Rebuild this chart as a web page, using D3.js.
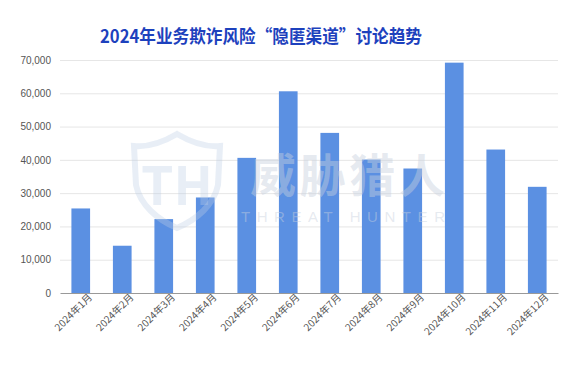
<!DOCTYPE html>
<html>
<head>
<meta charset="utf-8">
<script src="https://cdn.jsdelivr.net/npm/d3@7"></script>
<style>
  body { margin: 0; background: #fff; }
  text { font-family: "Noto Sans CJK SC", "Noto Sans", sans-serif; }
</style>
</head>
<body>
<div id="canvas"></div>
<script>
// 数据
const months = ["2024年1月", "2024年2月", "2024年3月", "2024年4月", "2024年5月", "2024年6月",
                "2024年7月", "2024年8月", "2024年9月", "2024年10月", "2024年11月", "2024年12月"];
const counts = [25400, 14200, 22200, 28700, 40600, 60600, 48100, 40100, 37400, 69200, 43100, 31900];
const yTicks = [0, 10000, 20000, 30000, 40000, 50000, 60000, 70000];

const width = 578;
const height = 371;
const margin = { top: 60, left: 60, bottom: 78, right: 20 };
const iwidth = width - margin.left - margin.right;
const iheight = height - margin.top - margin.bottom;

const svg = d3.select("#canvas").append("svg")
    .attr("width", width)
    .attr("height", height);

// 标题
svg.append("text")
    .attr("x", 100)
    .attr("y", 43)
    .attr("textLength", 322)
    .attr("lengthAdjust", "spacingAndGlyphs")
    .style("font-size", "18px")
    .style("font-weight", "bold")
    .style("fill", "#1d41bd")
    .text("2024年业务欺诈风险“隐匿渠道”讨论趋势");

const g = svg.append("g")
    .attr("transform", `translate(${margin.left}, ${margin.top})`);

const y = d3.scaleLinear()
    .domain([0, 70000])
    .range([iheight, 0]);

const x = d3.scaleBand()
    .domain(months)
    .range([0, iwidth])
    .paddingInner(0.55)
    .paddingOuter(0.275);

// 网格线
g.append("g")
    .selectAll("line")
    .data(yTicks.filter(d => d > 0))
    .enter()
    .append("line")
    .attr("x1", 0)
    .attr("x2", iwidth)
    .attr("y1", d => y(d) + 0.5)
    .attr("y2", d => y(d) + 0.5)
    .style("stroke", "#e6e6e6");

// y轴
const yAxis = g.append("g")
    .call(d3.axisLeft(y).tickValues(yTicks).tickFormat(d3.format(",")).tickSize(0).tickPadding(9));
yAxis.select(".domain").remove();
yAxis.selectAll("text")
    .style("font-family", "'Liberation Sans', sans-serif")
    .style("font-size", "10px")
    .style("fill", "#555");

// 柱子
g.selectAll("rect")
    .data(counts)
    .enter()
    .append("rect")
    .attr("x", (d, i) => x(months[i]))
    .attr("y", d => y(d))
    .attr("width", x.bandwidth())
    .attr("height", d => iheight - y(d))
    .style("fill", "#5b90e2");

// x轴
const xAxis = g.append("g")
    .attr("transform", `translate(0, ${iheight})`)
    .call(d3.axisBottom(x).tickSize(0).tickPadding(6));
xAxis.select(".domain").style("stroke", "#999");
xAxis.selectAll("text")
    .attr("text-anchor", "end")
    .attr("dx", "0.5em")
    .attr("dy", "0.6em")
    .attr("transform", "rotate(-45)")
    .style("font-size", "10px")
    .style("fill", "#555");

// 水印
const wm = svg.append("g").style("pointer-events", "none");
wm.append("path")
    .attr("d", "M177,134 C160,144 145,147 134,146 L136,185 C140,205 158,220 177,228 C196,220 214,205 218,185 L220,146 C209,147 194,144 177,134 Z")
    .style("fill", "none")
    .style("stroke", "rgba(190,205,230,0.35)")
    .style("stroke-width", 6);
wm.append("text")
    .attr("x", 177)
    .attr("y", 205)
    .attr("text-anchor", "middle")
    .style("font-size", "52px")
    .style("font-weight", "bold")
    .style("fill", "rgba(190,205,230,0.35)")
    .text("TH");
wm.append("text")
    .attr("x", 250)
    .attr("y", 192)
    .attr("textLength", 195)
    .attr("lengthAdjust", "spacing")
    .style("font-size", "46px")
    .style("font-weight", "bold")
    .style("fill", "rgba(200,208,222,0.45)")
    .text("威胁猎人");
wm.append("text")
    .attr("x", 241)
    .attr("y", 222)
    .attr("textLength", 204)
    .attr("lengthAdjust", "spacing")
    .style("font-family", "'Liberation Sans', sans-serif")
    .style("font-size", "15px")
    .style("fill", "rgba(200,208,222,0.45)")
    .text("THREAT HUNTER");
</script>
</body>
</html>
